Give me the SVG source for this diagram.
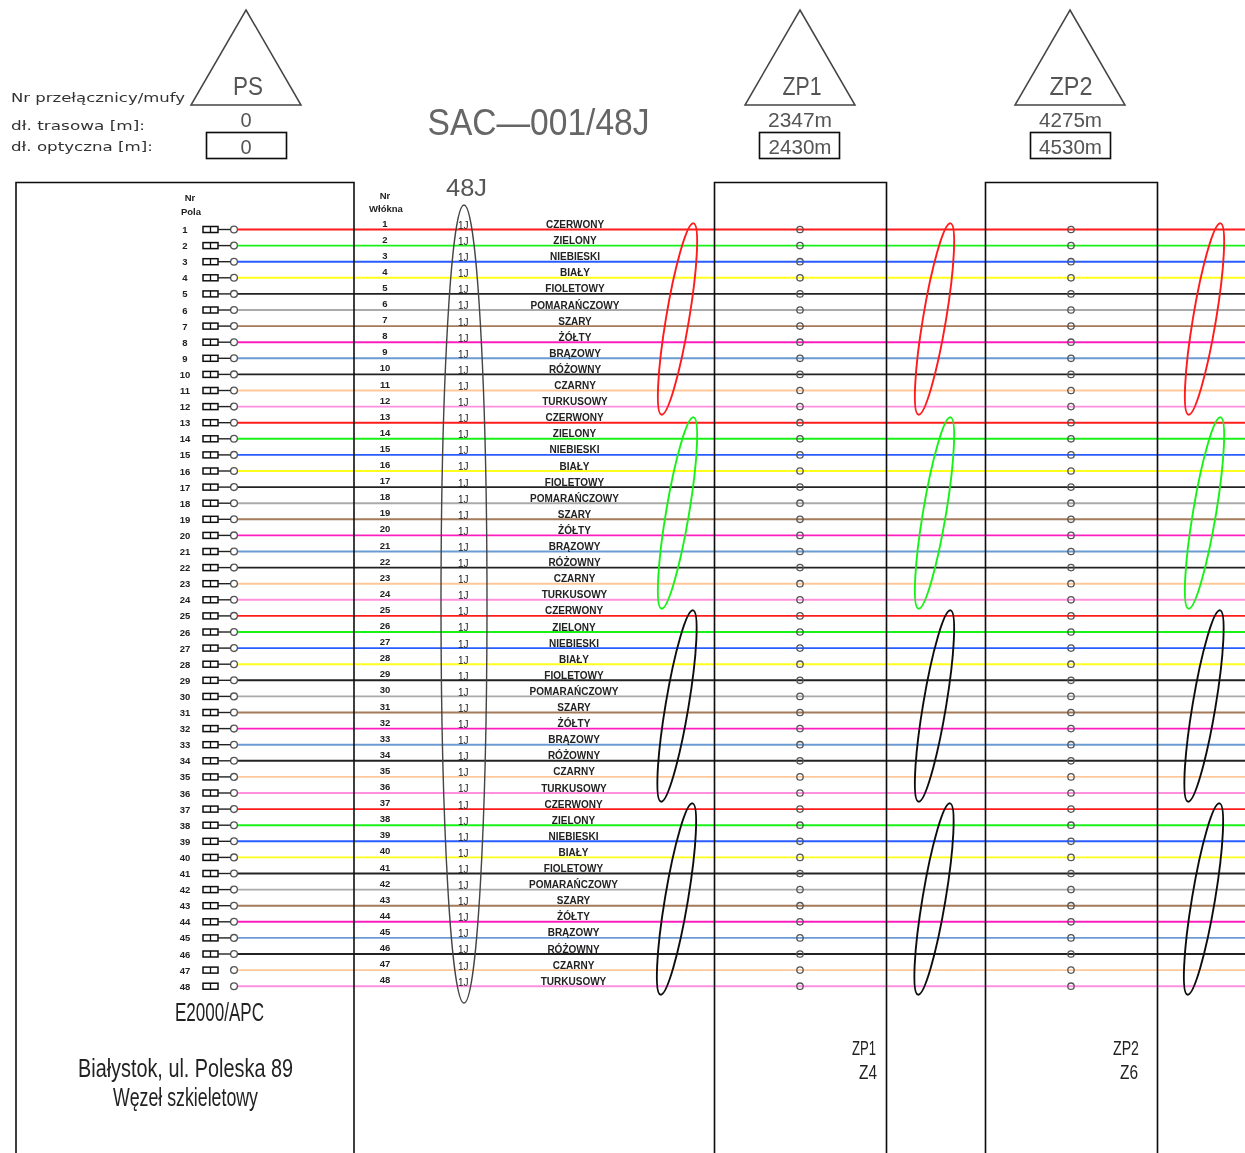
<svg xmlns="http://www.w3.org/2000/svg" width="1245" height="1153" viewBox="0 0 1245 1153">
<style>
text{font-family:"Liberation Sans",Arial,sans-serif;fill:#222}
.n{font-size:9.5px;font-weight:bold;text-anchor:middle}
.j{font-size:10px}
.l{font-size:10px;font-weight:bold;text-anchor:middle}
.h{font-size:9.5px;font-weight:bold;text-anchor:middle}
.g{font-family:"DejaVu Sans",sans-serif;font-size:12.5px;fill:#333}
.t{fill:#555;text-anchor:middle}
.c{font-size:25px;fill:#222;text-anchor:middle}
.b{fill:none;stroke:#111;stroke-width:1.6}
.tri{fill:none;stroke:#444;stroke-width:1.5}
.lp{fill:none;stroke-width:1.9}
.w path{fill:none;stroke-width:1.9}
.c0{stroke:#ff1a1a}.c1{stroke:#19f219}.c2{stroke:#2a5cff}.c3{stroke:#ffff1a}.c4{stroke:#222}.c5{stroke:#aaa}.c6{stroke:#a57a5a}.c7{stroke:#ff1fbe}.c8{stroke:#6b9bd2}.c9{stroke:#222}.c10{stroke:#ffc89a}.c11{stroke:#ff90e0}
.s{fill:none;stroke:#555;stroke-width:1.3}
</style>
<defs>
<filter id="soft" x="0" y="0" width="1245" height="1153" filterUnits="userSpaceOnUse"><feGaussianBlur stdDeviation="0.4"/></filter>
<g id="k"><rect x="203" y="-3" width="15" height="6" fill="none" stroke="#111" stroke-width="1.5"/><path d="M210.5-3V3" stroke="#111" stroke-width="1.3"/><circle cx="234" cy="0" r="3.4" class="s"/></g>
<path id="st" d="M218 0H230.5" stroke="#222" stroke-width="1.4"/>
<g id="col">
<circle cy="229.5" r="3.2" class="s"/><circle cy="245.6" r="3.2" class="s"/><circle cy="261.7" r="3.2" class="s"/><circle cy="277.8" r="3.2" class="s"/><circle cy="293.9" r="3.2" class="s"/><circle cy="310" r="3.2" class="s"/><circle cy="326.1" r="3.2" class="s"/><circle cy="342.2" r="3.2" class="s"/><circle cy="358.3" r="3.2" class="s"/><circle cy="374.4" r="3.2" class="s"/><circle cy="390.5" r="3.2" class="s"/><circle cy="406.6" r="3.2" class="s"/>
<circle cy="422.7" r="3.2" class="s"/><circle cy="438.8" r="3.2" class="s"/><circle cy="454.9" r="3.2" class="s"/><circle cy="471" r="3.2" class="s"/><circle cy="487.1" r="3.2" class="s"/><circle cy="503.2" r="3.2" class="s"/><circle cy="519.3" r="3.2" class="s"/><circle cy="535.4" r="3.2" class="s"/><circle cy="551.5" r="3.2" class="s"/><circle cy="567.6" r="3.2" class="s"/><circle cy="583.7" r="3.2" class="s"/><circle cy="599.8" r="3.2" class="s"/>
<circle cy="615.9" r="3.2" class="s"/><circle cy="632" r="3.2" class="s"/><circle cy="648.1" r="3.2" class="s"/><circle cy="664.2" r="3.2" class="s"/><circle cy="680.3" r="3.2" class="s"/><circle cy="696.4" r="3.2" class="s"/><circle cy="712.5" r="3.2" class="s"/><circle cy="728.6" r="3.2" class="s"/><circle cy="744.7" r="3.2" class="s"/><circle cy="760.8" r="3.2" class="s"/><circle cy="776.9" r="3.2" class="s"/><circle cy="793" r="3.2" class="s"/>
<circle cy="809.1" r="3.2" class="s"/><circle cy="825.2" r="3.2" class="s"/><circle cy="841.3" r="3.2" class="s"/><circle cy="857.4" r="3.2" class="s"/><circle cy="873.5" r="3.2" class="s"/><circle cy="889.6" r="3.2" class="s"/><circle cy="905.7" r="3.2" class="s"/><circle cy="921.8" r="3.2" class="s"/><circle cy="937.9" r="3.2" class="s"/><circle cy="954" r="3.2" class="s"/><circle cy="970.1" r="3.2" class="s"/><circle cy="986.2" r="3.2" class="s"/>
</g>
</defs>
<rect width="1245" height="1153" fill="#fff"/>
<g filter="url(#soft)">
<g id="connectors" class="w">
<path class="c0" d="M237 229.5H1245"/><path class="c1" d="M237 245.6H1245"/><path class="c2" d="M237 261.7H1245"/><path class="c3" d="M237 277.8H1245"/><path class="c4" d="M237 293.9H1245"/><path class="c5" d="M237 310H1245"/><path class="c6" d="M237 326.1H1245"/><path class="c7" d="M237 342.2H1245"/><path class="c8" d="M237 358.3H1245"/><path class="c9" d="M237 374.4H1245"/><path class="c10" d="M237 390.5H1245"/><path class="c11" d="M237 406.6H1245"/>
<path class="c0" d="M237 422.7H1245"/><path class="c1" d="M237 438.8H1245"/><path class="c2" d="M237 454.9H1245"/><path class="c3" d="M237 471H1245"/><path class="c4" d="M237 487.1H1245"/><path class="c5" d="M237 503.2H1245"/><path class="c6" d="M237 519.3H1245"/><path class="c7" d="M237 535.4H1245"/><path class="c8" d="M237 551.5H1245"/><path class="c9" d="M237 567.6H1245"/><path class="c10" d="M237 583.7H1245"/><path class="c11" d="M237 599.8H1245"/>
<path class="c0" d="M237 615.9H1245"/><path class="c1" d="M237 632H1245"/><path class="c2" d="M237 648.1H1245"/><path class="c3" d="M237 664.2H1245"/><path class="c4" d="M237 680.3H1245"/><path class="c5" d="M237 696.4H1245"/><path class="c6" d="M237 712.5H1245"/><path class="c7" d="M237 728.6H1245"/><path class="c8" d="M237 744.7H1245"/><path class="c9" d="M237 760.8H1245"/><path class="c10" d="M237 776.9H1245"/><path class="c11" d="M237 793H1245"/>
<path class="c0" d="M237 809.1H1245"/><path class="c1" d="M237 825.2H1245"/><path class="c2" d="M237 841.3H1245"/><path class="c3" d="M237 857.4H1245"/><path class="c4" d="M237 873.5H1245"/><path class="c5" d="M237 889.6H1245"/><path class="c6" d="M237 905.7H1245"/><path class="c7" d="M237 921.8H1245"/><path class="c8" d="M237 937.9H1245"/><path class="c9" d="M237 954H1245"/><path class="c10" d="M237 970.1H1245"/><path class="c11" d="M237 986.2H1245"/>
</g>
<g id="node-panel-ps"><path class="b" d="M16 1160V182.5H354V1160"/>
<text x="219.5" y="1021" font-size="26" text-anchor="middle" textLength="89" lengthAdjust="spacingAndGlyphs">E2000/APC</text>
<text x="185.5" y="1077" font-size="26" text-anchor="middle" textLength="215" lengthAdjust="spacingAndGlyphs">Białystok, ul. Poleska 89</text>
<text x="185.5" y="1106" font-size="26" text-anchor="middle" textLength="145" lengthAdjust="spacingAndGlyphs">Węzeł szkieletowy</text>
</g>
<g id="node-panel-zp1"><path class="b" d="M714.5 1160V182.5H886.5V1160"/><use href="#col" x="800"/>
<text x="864" y="1055" font-size="21" text-anchor="middle" textLength="24" lengthAdjust="spacingAndGlyphs">ZP1</text>
<text x="868" y="1079" font-size="21" text-anchor="middle" textLength="18" lengthAdjust="spacingAndGlyphs">Z4</text>
</g>
<g id="node-panel-zp2"><path class="b" d="M985.5 1160V182.5H1157.5V1160"/><use href="#col" x="1071"/>
<text x="1126" y="1055" font-size="21" text-anchor="middle" textLength="26" lengthAdjust="spacingAndGlyphs">ZP2</text>
<text x="1129" y="1079" font-size="21" text-anchor="middle" textLength="18" lengthAdjust="spacingAndGlyphs">Z6</text>
</g>
<g id="node-ps"><path class="tri" d="M246 10L301 105H191Z"/><text class="t" x="248" y="95" font-size="25" textLength="30" lengthAdjust="spacingAndGlyphs">PS</text><text class="t" x="246" y="127" font-size="20">0</text><rect class="b" x="206.5" y="132.5" width="80" height="26"/><text class="t" x="246" y="154" font-size="20">0</text></g>
<g id="node-zp1"><path class="tri" d="M800 10L855 105H745Z"/><text class="t" x="802" y="95" font-size="25" textLength="39" lengthAdjust="spacingAndGlyphs">ZP1</text><text class="t" x="800" y="127" font-size="20" textLength="64" lengthAdjust="spacingAndGlyphs">2347m</text><rect class="b" x="759.5" y="132.5" width="80" height="26"/><text class="t" x="800" y="154" font-size="20" textLength="63" lengthAdjust="spacingAndGlyphs">2430m</text></g>
<g id="node-zp2"><path class="tri" d="M1070 10L1125 105H1015Z"/><text class="t" x="1071" y="95" font-size="25" textLength="43" lengthAdjust="spacingAndGlyphs">ZP2</text><text class="t" x="1070.5" y="127" font-size="20" textLength="63" lengthAdjust="spacingAndGlyphs">4275m</text><rect class="b" x="1030.5" y="132.5" width="80" height="26"/><text class="t" x="1070.5" y="154" font-size="20" textLength="63" lengthAdjust="spacingAndGlyphs">4530m</text></g>
<g id="node-legend">
<text class="g" x="11" y="102" textLength="174" lengthAdjust="spacingAndGlyphs">Nr przełącznicy/mufy</text>
<text class="g" x="11" y="130" textLength="134" lengthAdjust="spacingAndGlyphs">dł. trasowa [m]:</text>
<text class="g" x="11" y="151" textLength="142" lengthAdjust="spacingAndGlyphs">dł. optyczna [m]:</text>
</g>
<g id="node-title"><text class="t" x="538.5" y="135" font-size="36" style="fill:#666" textLength="222" lengthAdjust="spacingAndGlyphs">SAC—001/48J</text></g>
<g id="node-cable"><ellipse cx="464" cy="604" rx="23" ry="399" fill="none" stroke="#444" stroke-width="1.4"/><text class="t" x="466.5" y="196" font-size="23" textLength="41" lengthAdjust="spacingAndGlyphs">48J</text></g>
<g id="node-headers">
<text class="h" x="190" y="201">Nr</text><text class="h" x="191" y="215">Pola</text>
<text class="h" x="385" y="199">Nr</text><text class="h" x="386" y="211.5">Włókna</text>
</g>
<g id="node-loops">
<ellipse class="lp c0" cx="677.5" cy="319" rx="11.5" ry="97" transform="rotate(9.5 677.5 319)"/><ellipse class="lp c1" cx="677.5" cy="513" rx="11.5" ry="97" transform="rotate(9.5 677.5 513)"/><ellipse class="lp" stroke="#111" cx="677" cy="706" rx="11.5" ry="97" transform="rotate(9.5 677 706)"/><ellipse class="lp" stroke="#111" cx="676.5" cy="899" rx="11.5" ry="97" transform="rotate(9.5 676.5 899)"/>
<ellipse class="lp c0" cx="934.5" cy="319" rx="11.5" ry="97" transform="rotate(9.5 934.5 319)"/><ellipse class="lp c1" cx="934.5" cy="513" rx="11.5" ry="97" transform="rotate(9.5 934.5 513)"/><ellipse class="lp" stroke="#111" cx="934.5" cy="706" rx="11.5" ry="97" transform="rotate(9.5 934.5 706)"/><ellipse class="lp" stroke="#111" cx="934" cy="899" rx="11.5" ry="97" transform="rotate(9.5 934 899)"/>
<ellipse class="lp c0" cx="1204.5" cy="319" rx="11.5" ry="97" transform="rotate(9.5 1204.5 319)"/><ellipse class="lp c1" cx="1204.5" cy="513" rx="11.5" ry="97" transform="rotate(9.5 1204.5 513)"/><ellipse class="lp" stroke="#111" cx="1204" cy="706" rx="11.5" ry="97" transform="rotate(9.5 1204 706)"/><ellipse class="lp" stroke="#111" cx="1203.5" cy="899" rx="11.5" ry="97" transform="rotate(9.5 1203.5 899)"/>
</g>
<g id="node-fibres">
<g id="f1" transform="translate(0,229.5)"><use href="#k"/><use href="#st"/><text class="n" x="185" y="3.5">1</text><text class="n" x="385" y="-3">1</text><text class="j" x="458" y="-.6">1J</text><text class="l" x="575" y="-1.5">CZERWONY</text></g>
<g id="f2" transform="translate(0,245.6)"><use href="#k"/><use href="#st"/><text class="n" x="185" y="3.5">2</text><text class="n" x="385" y="-3">2</text><text class="j" x="458" y="-.6">1J</text><text class="l" x="575" y="-1.5">ZIELONY</text></g>
<g id="f3" transform="translate(0,261.7)"><use href="#k"/><use href="#st"/><text class="n" x="185" y="3.5">3</text><text class="n" x="385" y="-3">3</text><text class="j" x="458" y="-.6">1J</text><text class="l" x="575" y="-1.5">NIEBIESKI</text></g>
<g id="f4" transform="translate(0,277.8)"><use href="#k"/><use href="#st"/><text class="n" x="185" y="3.5">4</text><text class="n" x="385" y="-3">4</text><text class="j" x="458" y="-.6">1J</text><text class="l" x="575" y="-1.5">BIAŁY</text></g>
<g id="f5" transform="translate(0,293.9)"><use href="#k"/><use href="#st"/><text class="n" x="185" y="3.5">5</text><text class="n" x="385" y="-3">5</text><text class="j" x="458" y="-.6">1J</text><text class="l" x="575" y="-1.5">FIOLETOWY</text></g>
<g id="f6" transform="translate(0,310)"><use href="#k"/><use href="#st"/><text class="n" x="185" y="3.5">6</text><text class="n" x="385" y="-3">6</text><text class="j" x="458" y="-.6">1J</text><text class="l" x="575" y="-1.5">POMARAŃCZOWY</text></g>
<g id="f7" transform="translate(0,326.1)"><use href="#k"/><use href="#st"/><text class="n" x="185" y="3.5">7</text><text class="n" x="385" y="-3">7</text><text class="j" x="458" y="-.6">1J</text><text class="l" x="575" y="-1.5">SZARY</text></g>
<g id="f8" transform="translate(0,342.2)"><use href="#k"/><use href="#st"/><text class="n" x="185" y="3.5">8</text><text class="n" x="385" y="-3">8</text><text class="j" x="458" y="-.6">1J</text><text class="l" x="575" y="-1.5">ŻÓŁTY</text></g>
<g id="f9" transform="translate(0,358.3)"><use href="#k"/><use href="#st"/><text class="n" x="185" y="3.5">9</text><text class="n" x="385" y="-3">9</text><text class="j" x="458" y="-.6">1J</text><text class="l" x="575" y="-1.5">BRĄZOWY</text></g>
<g id="f10" transform="translate(0,374.4)"><use href="#k"/><use href="#st"/><text class="n" x="185" y="3.5">10</text><text class="n" x="385" y="-3">10</text><text class="j" x="458" y="-.6">1J</text><text class="l" x="575" y="-1.5">RÓŻOWNY</text></g>
<g id="f11" transform="translate(0,390.5)"><use href="#k"/><use href="#st"/><text class="n" x="185" y="3.5">11</text><text class="n" x="385" y="-3">11</text><text class="j" x="458" y="-.6">1J</text><text class="l" x="575" y="-1.5">CZARNY</text></g>
<g id="f12" transform="translate(0,406.6)"><use href="#k"/><use href="#st"/><text class="n" x="185" y="3.5">12</text><text class="n" x="385" y="-3">12</text><text class="j" x="458" y="-.6">1J</text><text class="l" x="575" y="-1.5">TURKUSOWY</text></g>
<g id="f13" transform="translate(0,422.7)"><use href="#k"/><use href="#st"/><text class="n" x="185" y="3.5">13</text><text class="n" x="385" y="-3">13</text><text class="j" x="458" y="-.6">1J</text><text class="l" x="574.5" y="-1.5">CZERWONY</text></g>
<g id="f14" transform="translate(0,438.8)"><use href="#k"/><use href="#st"/><text class="n" x="185" y="3.5">14</text><text class="n" x="385" y="-3">14</text><text class="j" x="458" y="-.6">1J</text><text class="l" x="574.5" y="-1.5">ZIELONY</text></g>
<g id="f15" transform="translate(0,454.9)"><use href="#k"/><use href="#st"/><text class="n" x="185" y="3.5">15</text><text class="n" x="385" y="-3">15</text><text class="j" x="458" y="-.6">1J</text><text class="l" x="574.5" y="-1.5">NIEBIESKI</text></g>
<g id="f16" transform="translate(0,471)"><use href="#k"/><use href="#st"/><text class="n" x="185" y="3.5">16</text><text class="n" x="385" y="-3">16</text><text class="j" x="458" y="-.6">1J</text><text class="l" x="574.5" y="-1.5">BIAŁY</text></g>
<g id="f17" transform="translate(0,487.1)"><use href="#k"/><use href="#st"/><text class="n" x="185" y="3.5">17</text><text class="n" x="385" y="-3">17</text><text class="j" x="458" y="-.6">1J</text><text class="l" x="574.5" y="-1.5">FIOLETOWY</text></g>
<g id="f18" transform="translate(0,503.2)"><use href="#k"/><use href="#st"/><text class="n" x="185" y="3.5">18</text><text class="n" x="385" y="-3">18</text><text class="j" x="458" y="-.6">1J</text><text class="l" x="574.5" y="-1.5">POMARAŃCZOWY</text></g>
<g id="f19" transform="translate(0,519.3)"><use href="#k"/><use href="#st"/><text class="n" x="185" y="3.5">19</text><text class="n" x="385" y="-3">19</text><text class="j" x="458" y="-.6">1J</text><text class="l" x="574.5" y="-1.5">SZARY</text></g>
<g id="f20" transform="translate(0,535.4)"><use href="#k"/><use href="#st"/><text class="n" x="185" y="3.5">20</text><text class="n" x="385" y="-3">20</text><text class="j" x="458" y="-.6">1J</text><text class="l" x="574.5" y="-1.5">ŻÓŁTY</text></g>
<g id="f21" transform="translate(0,551.5)"><use href="#k"/><use href="#st"/><text class="n" x="185" y="3.5">21</text><text class="n" x="385" y="-3">21</text><text class="j" x="458" y="-.6">1J</text><text class="l" x="574.5" y="-1.5">BRĄZOWY</text></g>
<g id="f22" transform="translate(0,567.6)"><use href="#k"/><use href="#st"/><text class="n" x="185" y="3.5">22</text><text class="n" x="385" y="-3">22</text><text class="j" x="458" y="-.6">1J</text><text class="l" x="574.5" y="-1.5">RÓŻOWNY</text></g>
<g id="f23" transform="translate(0,583.7)"><use href="#k"/><use href="#st"/><text class="n" x="185" y="3.5">23</text><text class="n" x="385" y="-3">23</text><text class="j" x="458" y="-.6">1J</text><text class="l" x="574.5" y="-1.5">CZARNY</text></g>
<g id="f24" transform="translate(0,599.8)"><use href="#k"/><use href="#st"/><text class="n" x="185" y="3.5">24</text><text class="n" x="385" y="-3">24</text><text class="j" x="458" y="-.6">1J</text><text class="l" x="574.5" y="-1.5">TURKUSOWY</text></g>
<g id="f25" transform="translate(0,615.9)"><use href="#k"/><use href="#st"/><text class="n" x="185" y="3.5">25</text><text class="n" x="385" y="-3">25</text><text class="j" x="458" y="-.6">1J</text><text class="l" x="574" y="-1.5">CZERWONY</text></g>
<g id="f26" transform="translate(0,632)"><use href="#k"/><use href="#st"/><text class="n" x="185" y="3.5">26</text><text class="n" x="385" y="-3">26</text><text class="j" x="458" y="-.6">1J</text><text class="l" x="574" y="-1.5">ZIELONY</text></g>
<g id="f27" transform="translate(0,648.1)"><use href="#k"/><use href="#st"/><text class="n" x="185" y="3.5">27</text><text class="n" x="385" y="-3">27</text><text class="j" x="458" y="-.6">1J</text><text class="l" x="574" y="-1.5">NIEBIESKI</text></g>
<g id="f28" transform="translate(0,664.2)"><use href="#k"/><use href="#st"/><text class="n" x="185" y="3.5">28</text><text class="n" x="385" y="-3">28</text><text class="j" x="458" y="-.6">1J</text><text class="l" x="574" y="-1.5">BIAŁY</text></g>
<g id="f29" transform="translate(0,680.3)"><use href="#k"/><use href="#st"/><text class="n" x="185" y="3.5">29</text><text class="n" x="385" y="-3">29</text><text class="j" x="458" y="-.6">1J</text><text class="l" x="574" y="-1.5">FIOLETOWY</text></g>
<g id="f30" transform="translate(0,696.4)"><use href="#k"/><use href="#st"/><text class="n" x="185" y="3.5">30</text><text class="n" x="385" y="-3">30</text><text class="j" x="458" y="-.6">1J</text><text class="l" x="574" y="-1.5">POMARAŃCZOWY</text></g>
<g id="f31" transform="translate(0,712.5)"><use href="#k"/><use href="#st"/><text class="n" x="185" y="3.5">31</text><text class="n" x="385" y="-3">31</text><text class="j" x="458" y="-.6">1J</text><text class="l" x="574" y="-1.5">SZARY</text></g>
<g id="f32" transform="translate(0,728.6)"><use href="#k"/><use href="#st"/><text class="n" x="185" y="3.5">32</text><text class="n" x="385" y="-3">32</text><text class="j" x="458" y="-.6">1J</text><text class="l" x="574" y="-1.5">ŻÓŁTY</text></g>
<g id="f33" transform="translate(0,744.7)"><use href="#k"/><use href="#st"/><text class="n" x="185" y="3.5">33</text><text class="n" x="385" y="-3">33</text><text class="j" x="458" y="-.6">1J</text><text class="l" x="574" y="-1.5">BRĄZOWY</text></g>
<g id="f34" transform="translate(0,760.8)"><use href="#k"/><use href="#st"/><text class="n" x="185" y="3.5">34</text><text class="n" x="385" y="-3">34</text><text class="j" x="458" y="-.6">1J</text><text class="l" x="574" y="-1.5">RÓŻOWNY</text></g>
<g id="f35" transform="translate(0,776.9)"><use href="#k"/><use href="#st"/><text class="n" x="185" y="3.5">35</text><text class="n" x="385" y="-3">35</text><text class="j" x="458" y="-.6">1J</text><text class="l" x="574" y="-1.5">CZARNY</text></g>
<g id="f36" transform="translate(0,793)"><use href="#k"/><use href="#st"/><text class="n" x="185" y="3.5">36</text><text class="n" x="385" y="-3">36</text><text class="j" x="458" y="-.6">1J</text><text class="l" x="574" y="-1.5">TURKUSOWY</text></g>
<g id="f37" transform="translate(0,809.1)"><use href="#k"/><use href="#st"/><text class="n" x="185" y="3.5">37</text><text class="n" x="385" y="-3">37</text><text class="j" x="458" y="-.6">1J</text><text class="l" x="573.5" y="-1.5">CZERWONY</text></g>
<g id="f38" transform="translate(0,825.2)"><use href="#k"/><use href="#st"/><text class="n" x="185" y="3.5">38</text><text class="n" x="385" y="-3">38</text><text class="j" x="458" y="-.6">1J</text><text class="l" x="573.5" y="-1.5">ZIELONY</text></g>
<g id="f39" transform="translate(0,841.3)"><use href="#k"/><use href="#st"/><text class="n" x="185" y="3.5">39</text><text class="n" x="385" y="-3">39</text><text class="j" x="458" y="-.6">1J</text><text class="l" x="573.5" y="-1.5">NIEBIESKI</text></g>
<g id="f40" transform="translate(0,857.4)"><use href="#k"/><use href="#st"/><text class="n" x="185" y="3.5">40</text><text class="n" x="385" y="-3">40</text><text class="j" x="458" y="-.6">1J</text><text class="l" x="573.5" y="-1.5">BIAŁY</text></g>
<g id="f41" transform="translate(0,873.5)"><use href="#k"/><use href="#st"/><text class="n" x="185" y="3.5">41</text><text class="n" x="385" y="-3">41</text><text class="j" x="458" y="-.6">1J</text><text class="l" x="573.5" y="-1.5">FIOLETOWY</text></g>
<g id="f42" transform="translate(0,889.6)"><use href="#k"/><use href="#st"/><text class="n" x="185" y="3.5">42</text><text class="n" x="385" y="-3">42</text><text class="j" x="458" y="-.6">1J</text><text class="l" x="573.5" y="-1.5">POMARAŃCZOWY</text></g>
<g id="f43" transform="translate(0,905.7)"><use href="#k"/><use href="#st"/><text class="n" x="185" y="3.5">43</text><text class="n" x="385" y="-3">43</text><text class="j" x="458" y="-.6">1J</text><text class="l" x="573.5" y="-1.5">SZARY</text></g>
<g id="f44" transform="translate(0,921.8)"><use href="#k"/><use href="#st"/><text class="n" x="185" y="3.5">44</text><text class="n" x="385" y="-3">44</text><text class="j" x="458" y="-.6">1J</text><text class="l" x="573.5" y="-1.5">ŻÓŁTY</text></g>
<g id="f45" transform="translate(0,937.9)"><use href="#k"/><use href="#st"/><text class="n" x="185" y="3.5">45</text><text class="n" x="385" y="-3">45</text><text class="j" x="458" y="-.6">1J</text><text class="l" x="573.5" y="-1.5">BRĄZOWY</text></g>
<g id="f46" transform="translate(0,954)"><use href="#k"/><use href="#st"/><text class="n" x="185" y="3.5">46</text><text class="n" x="385" y="-3">46</text><text class="j" x="458" y="-.6">1J</text><text class="l" x="573.5" y="-1.5">RÓŻOWNY</text></g>
<g id="f47" transform="translate(0,970.1)"><use href="#k"/><text class="n" x="185" y="3.5">47</text><text class="n" x="385" y="-3">47</text><text class="j" x="458" y="-.6">1J</text><text class="l" x="573.5" y="-1.5">CZARNY</text></g>
<g id="f48" transform="translate(0,986.2)"><use href="#k"/><text class="n" x="185" y="3.5">48</text><text class="n" x="385" y="-3">48</text><text class="j" x="458" y="-.6">1J</text><text class="l" x="573.5" y="-1.5">TURKUSOWY</text></g>
</g>
</g>
</svg>
